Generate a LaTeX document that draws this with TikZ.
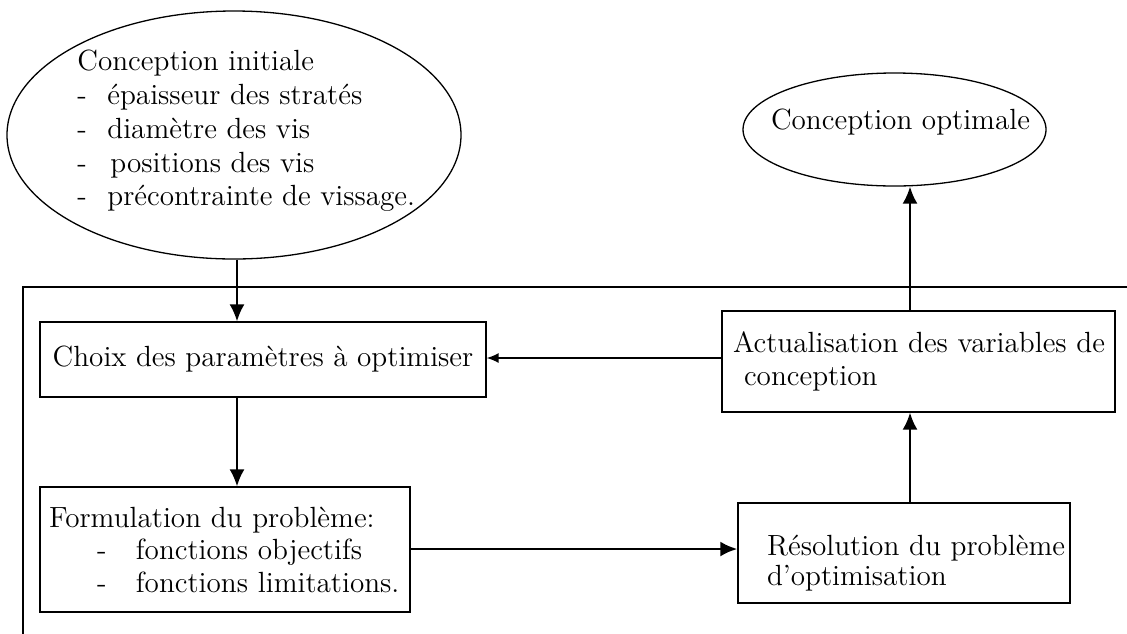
\documentclass[tikz,border=0pt]{standalone}
\usetikzlibrary{shapes.geometric,arrows.meta}
\begin{document}
\begin{tikzpicture}[x=0.5pt,y=-0.5pt,
  every node/.style={font=\fontsize{14.6}{16.5}\selectfont},
  box/.style={draw, rectangle, line width=0.65pt, inner ysep=0pt},
  oval/.style={draw, ellipse, line width=0.65pt, inner sep=0pt},
  arr/.style={-{Latex[length=8.5pt,width=7.5pt]}, line width=1pt},
  arrsmall/.style={-{Latex[length=6pt,width=5pt]}, line width=0.7pt},
  frame/.style={line width=0.6pt}]
\useasboundingbox (0,0) rectangle (1127,633);

% frame
\draw[frame] (1127,287) -- (23,287) -- (23,640);

% initial design ellipse
\node[oval, minimum width=227pt, minimum height=124pt] (init) at (234,135) {};
\node[anchor=west, align=left, inner sep=0pt, font=\fontsize{14.6}{16.9}\selectfont] (inittxt) at (77,131)
  {Conception initiale\\
   \makebox[15pt][l]{-}épaisseur des stratés\\
   \makebox[15pt][l]{-}diamètre des vis\\
   \makebox[16.5pt][l]{-}positions des vis\\
   \makebox[15pt][l]{-}précontrainte de vissage.};

% optimal design ellipse
\node[oval, minimum width=151.5pt, minimum height=56.5pt] (opt) at (894.5,129.5) {};
\node[inner sep=0pt] (opttxt) at (900.5,122) {Conception optimale};

% boxes
\node[box, minimum width=223pt, minimum height=37.5pt, inner xsep=0pt] (choix) at (263,359.5)
  {Choix des paramètres à optimiser};

\node[box, minimum width=185pt, minimum height=62.5pt, inner xsep=4.5pt, text width=176pt, align=left,
      font=\fontsize{14.6}{16.25}\selectfont] (form) at (225,549.5)
  {\mbox{Formulation du problème:}\\
   \hspace*{24pt}\makebox[19.5pt][l]{-}\mbox{fonctions objectifs}\\
   \hspace*{24pt}\makebox[19.5pt][l]{-}\mbox{fonctions limitations.}};

\node[box, minimum width=196.5pt, minimum height=50.5pt, inner xsep=2pt, text width=192.5pt, align=left] (actu) at (918.5,361.5)
  {\hspace*{3.5pt}\mbox{Actualisation des variables de}\\
   \hspace*{9pt}\mbox{conception}};

\node[box, minimum width=166pt, minimum height=50pt, inner xsep=14.5pt, text width=137pt, align=left,
      font=\fontsize{14.6}{15}\selectfont] (reso) at (904,553)
  {\rule{0pt}{20pt}\mbox{Résolution du problème}\\
   \mbox{d'optimisation}};

% connector x positions
\coordinate (cl) at (237,0);
\coordinate (cr) at (910,0);

% connectors
\draw[arr] (cl |- init.south) -- (cl |- choix.north);
\draw[arr] (cl |- choix.south) -- (cl |- form.north);
\draw[arr, line width=1.4pt] (form.east |- 0,549) -- (reso.west |- 0,549);
\draw[arr] (cr |- reso.north) -- (cr |- actu.south);
\draw[arrsmall] (actu.west |- 0,358) -- (choix.east |- 0,358);
\draw[arr] (cr |- actu.north) -- (cr |- opt.south);
\end{tikzpicture}
\end{document}
